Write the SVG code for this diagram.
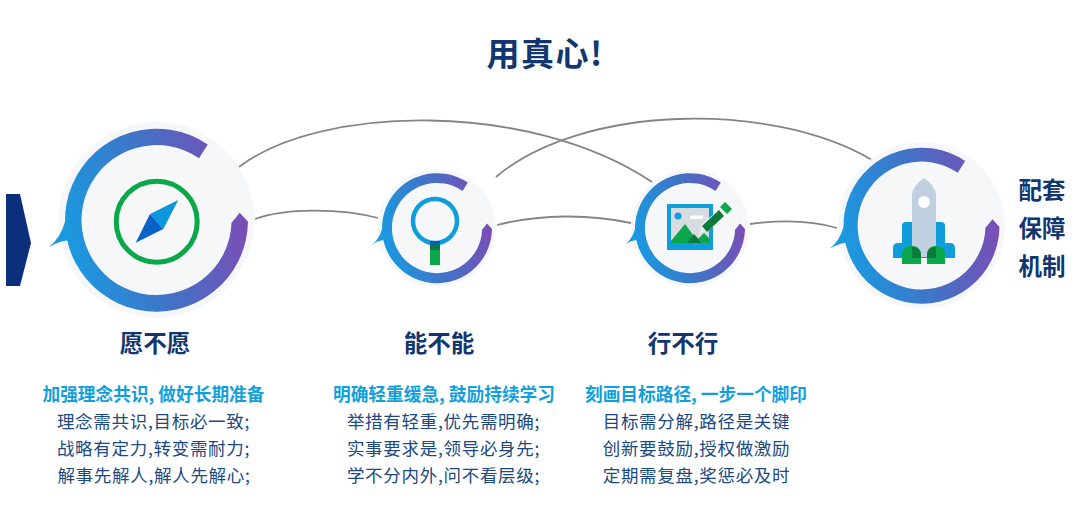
<svg xmlns="http://www.w3.org/2000/svg" width="1080" height="526" viewBox="0 0 1080 526">
<style>
text{font-family:"Noto Sans CJK SC","Liberation Sans",sans-serif;text-anchor:middle}
.title{font-size:33px;font-weight:700;fill:#12366f;letter-spacing:1.5px}
.head{font-size:23.5px;font-weight:700;fill:#12366f}
.side{font-size:23.5px;font-weight:700;fill:#12366f}
.sub{font-size:17.7px;font-weight:700;fill:#12a0dc}
.body{font-size:17.5px;font-weight:400;fill:#1c4a80;letter-spacing:.7px}
.link{fill:none;stroke:#858585;stroke-width:1.8}
.pale{fill:#f5f7f8}
.tail{fill:#1a9ae0}
.g{fill:#0aa84a}
.b{fill:#0f9ddc}
</style>
<defs>
<linearGradient id="rg" x1="0" y1="0.6" x2="1" y2="0.4">
<stop offset="0" stop-color="#1a9ae0"/>
<stop offset="0.5" stop-color="#4272c6"/>
<stop offset="1" stop-color="#7f4bb5"/>
</linearGradient>
<g id="ring">
<circle class="pale" r="107"/>
<path class="tail" d="M-117.5 29.5Q-105 20-100 2L-94 22Q-105 22-117.5 29.5Z"/>
<path fill="url(#rg)" d="M56-82.6A100 100 0 1 0 100 2L91-8L82 3A82 82 0 1 1 46.5-67.5Z"/>
</g>
</defs>
<rect width="1080" height="526" fill="#fff"/>
<text class="title" x="545" y="66">用真心!</text>
<polygon id="chevron" points="6,194 20,194 31,243 20,286 6,286" fill="#0b2f7a"/>
<g id="connectors">
<path class="link" d="M239 167C320 105 530 100 652 182"/>
<path class="link" d="M496 177C580 105 770 100 872 160"/>
<path class="link" d="M255 219C285 208 340 208 378 218"/>
<path class="link" d="M497 225C540 214 590 214 631 223"/>
<path class="link" d="M750 224C780 220 810 220 837 228"/>
</g>
<g id="node-1">
<use href="#ring" transform="translate(156.5 220) scale(.915)"/>
<circle cx="156.7" cy="221.7" r="40.5" fill="none" stroke="#0aa84a" stroke-width="5"/>
<polygon points="178.3,200 150,214 163.3,229" fill="#0d96de"/>
<polygon points="135.7,242.7 150,214 163.3,229" fill="#0a62c8"/>
<text class="head" x="155" y="352">愿不愿</text>
<text class="sub" x="153.500" y="401">加强理念共识, 做好长期准备</text>
<text class="body" x="153.500" y="428">理念需共识,目标必一致;</text>
<text class="body" x="153.500" y="455">战略有定力,转变需耐力;</text>
<text class="body" x="154" y="482">解事先解人,解人先解心;</text>
</g>
<g id="node-2">
<use href="#ring" transform="translate(437 228) scale(.55)"/>
<circle cx="435" cy="221" r="22" fill="none" stroke="#0f9ddc" stroke-width="4.500"/>
<rect class="g" x="430" y="245" width="10" height="20"/>
<rect x="430" y="241" width="10" height="4" fill="#0b5fa8"/>
<rect x="430" y="245" width="10" height="5" fill="#0b7a3a"/>
<text class="head" x="439" y="352">能不能</text>
<text class="sub" x="444" y="401">明确轻重缓急, 鼓励持续学习</text>
<text class="body" x="443.500" y="428">举措有轻重,优先需明确;</text>
<text class="body" x="443.500" y="455">实事要求是,领导必身先;</text>
<text class="body" x="443.500" y="482">学不分内外,问不看层级;</text>
</g>
<g id="node-3">
<use href="#ring" transform="translate(690 228) scale(.55)"/>
<rect class="b" x="667" y="204" width="46" height="46"/>
<rect x="671" y="208" width="38" height="35" fill="#d8dce1"/>
<circle class="b" cx="678" cy="216" r="3.500"/>
<rect x="690" y="215.500" width="13" height="3.500" fill="#fff"/>
<polygon class="g" points="671,243 671,241 685,224 699,243"/>
<polygon points="687,243 694,234 702,243" fill="#0b7a3a"/>
<polygon points="698,239 704,233 709,238 709,243 702,243" class="g"/>
<polygon points="699,235 702,224 709,228" fill="#e8ebee"/>
<polygon points="701,225 720,209 725,215 707,232" fill="#f5f7f8"/>
<polygon points="702,226 719,210 724,216 707,232" fill="#0b7a3a"/>
<polygon class="g" points="720,207 725,202 732,209 727,214"/>
<text class="head" x="683" y="352">行不行</text>
<text class="sub" x="696" y="401">刻画目标路径, 一步一个脚印</text>
<text class="body" x="696.500" y="428">目标需分解,路径是关键</text>
<text class="body" x="696.500" y="455">创新要鼓励,授权做激励</text>
<text class="body" x="696.500" y="482">定期需复盘,奖惩必及时</text>
</g>
<g id="node-4">
<use href="#ring" transform="translate(921.500 225.500) scale(.78)"/>
<path class="b" d="M902 258V226Q902 222 906 222H941Q945 222 945 226V243H950Q955 243 955 248V258Z"/>
<path class="b" d="M893 258V248Q893 243 898 243H905V258Z"/>
<path d="M912 257V193Q914 185 924 178Q934 185 936 193V257Z" fill="#c0d0e0"/>
<circle cx="924" cy="202" r="6" fill="#fff"/>
<path class="g" d="M902 264V255Q902 246 911.500 246Q921 246 921 255V264Z"/>
<path class="g" d="M927 264V255Q927 246 936 246Q945 246 945 255V264Z"/>
<path d="M912 258V246.500Q921 248 921 255V258Z" fill="#0b7a3a"/>
<path d="M927 258V255Q927 248 936 246.500V258Z" fill="#0b7a3a"/>
<text class="side" x="1042" y="199">配套</text>
<text class="side" x="1042" y="237">保障</text>
<text class="side" x="1042" y="275">机制</text>
</g>
</svg>
